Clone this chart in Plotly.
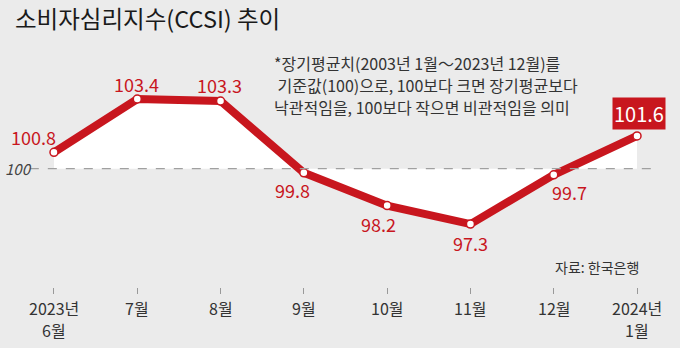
import plotly.graph_objects as go

months_line1 = ["2023년", "7월", "8월", "9월", "10월", "11월", "12월", "2024년"]
months_line2 = ["6월", "", "", "", "", "", "", "1월"]
values = [100.8, 103.4, 103.3, 99.8, 98.2, 97.3, 99.7, 101.6]
baseline = 100
note_lines = ["*장기평균치(2003년 1월～2023년 12월)를",
              " 기준값(100)으로, 100보다 크면 장기평균보다",
              "낙관적임을, 100보다 작으면 비관적임을 의미"]
xi = list(range(len(values)))

RED = "#c8161e"
BG = "#ebebeb"
FONT = "Noto Sans CJK KR"
PLOT_H = 287

fig = go.Figure()
fig.add_trace(go.Scatter(x=xi, y=[baseline] * len(xi), mode="lines",
                         line=dict(width=0), hoverinfo="skip", showlegend=False))
fig.add_trace(go.Scatter(x=xi, y=values, mode="lines", fill="tonexty",
                         fillcolor="white", line=dict(width=0), hoverinfo="skip",
                         showlegend=False))
fig.add_shape(type="line", x0=-0.29, x1=7.24, y0=baseline, y1=baseline,
              line=dict(color="#a0a0a0", width=1.2, dash="dash"), layer="above")
fig.add_trace(go.Scatter(x=xi, y=values, mode="lines+markers",
                         line=dict(color=RED, width=8),
                         marker=dict(size=8, color="white", line=dict(color=RED, width=1.5)),
                         showlegend=False))

# label offsets (pixels) relative to point
offsets = [(-20, 15), (-1, 15), (-1, 16), (-11, -17), (-9, -18), (0, -19), (16, -17)]
for i, (v, (dx, dy)) in enumerate(zip(values[:-1], offsets)):
    fig.add_annotation(x=i, y=v, text=f"{v}", showarrow=False, xshift=dx, yshift=dy,
                       font=dict(family=FONT, size=18, color=RED))
fig.add_annotation(x=7, y=values[-1], text=f"{values[-1]}", showarrow=False,
                   xshift=2, yshift=22, bgcolor=RED, borderpad=1,
                   font=dict(family=FONT, size=20, color="white"))

fig.add_annotation(x=0, y=baseline, text="<i>100</i>", showarrow=False, xshift=-35,
                   font=dict(family=FONT, size=15, color="#444"))

# x tick labels (two rows) below the axis
for i in xi:
    fig.add_annotation(x=i, xref="x", yref="paper", y=0, yshift=-21,
                       text=months_line1[i], showarrow=False, yanchor="middle",
                       font=dict(family=FONT, size=16, color="#333"))
    if months_line2[i]:
        fig.add_annotation(x=i, xref="x", yref="paper", y=0, yshift=-43,
                           text=months_line2[i], showarrow=False, yanchor="middle",
                           font=dict(family=FONT, size=16, color="#333"))

fig.add_annotation(xref="paper", yref="paper", x=13 / 680, y=1 - 18 / PLOT_H,
                   xanchor="left", yanchor="middle", showarrow=False,
                   text="소비자심리지수(CCSI) 추이",
                   font=dict(family=FONT, size=23.5, color="#1a1a1a"))

for k, line in enumerate(note_lines):
    fig.add_annotation(xref="paper", yref="paper", x=272 / 680,
                       y=1 - (63 + 22 * k) / PLOT_H,
                       xanchor="left", yanchor="middle", align="left", showarrow=False,
                       text=line, font=dict(family=FONT, size=16, color="#333"))

fig.add_annotation(xref="paper", yref="paper", x=641 / 680, y=1 - 267 / PLOT_H,
                   xanchor="right", yanchor="middle", showarrow=False,
                   text="자료: 한국은행", font=dict(family=FONT, size=14, color="#333"))

fig.update_layout(
    width=680, height=348, paper_bgcolor=BG, plot_bgcolor=BG,
    margin=dict(l=0, r=0, t=0, b=348 - PLOT_H),
    xaxis=dict(range=[-0.648, 7.516], tickvals=xi, showticklabels=False,
               showgrid=False, zeroline=False, showline=False,
               ticks="outside", ticklen=6, tickcolor="#999"),
    yaxis=dict(range=[94.23, 108.23], showgrid=False, zeroline=False,
               showticklabels=False, showline=False),
)
fig.write_html("out.html")
